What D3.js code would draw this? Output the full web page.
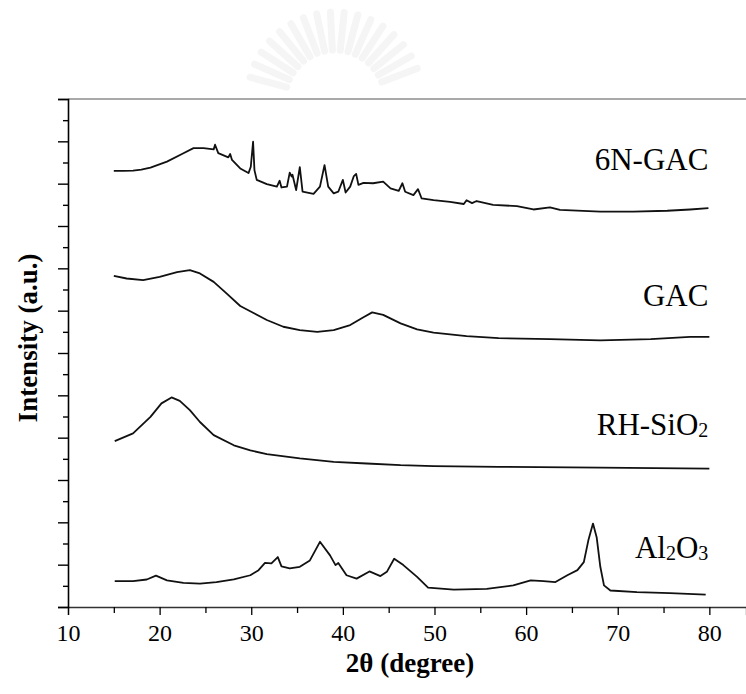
<!DOCTYPE html>
<html>
<head>
<meta charset="utf-8">
<script src="https://d3js.org/d3.v7.min.js"></script>
<style>
body { margin: 0; background: #fff; }
svg text { font-family: "Liberation Serif", "Times New Roman", serif; fill: #000; }
</style>
</head>
<body>
<svg id="chart" width="746" height="694"></svg>
<script>
// tick values
var xMajor = [10, 20, 30, 40, 50, 60, 70, 80];
var xMinor = [15, 25, 35, 45, 55, 65, 75];
var yMajor = d3.range(0, 12.5, 1);
var yMinor = d3.range(0.5, 12, 1);

// series names (subscript parts marked with true)
var names = [
  [["6N-GAC", false]],
  [["GAC", false]],
  [["RH-SiO", false], ["2", true]],
  [["Al", false], ["2", true], ["O", false], ["3", true]]
];
// where each name sits, in data units (right edge at 80 deg)
var nameY = [10.32, 7.11, 4.06, 1.16];

// 2theta (deg), intensity (a.u., offset stacked)
var gac6n = [[15.0,10.30],[16.0,10.30],[17.1,10.31],[18.0,10.33],[19.0,10.38],[20.8,10.52],[22.6,10.72],
  [23.7,10.84],[24.8,10.84],[25.9,10.81],[26.05,10.92],[26.4,10.72],[27.5,10.62],[27.7,10.70],[27.9,10.56],
  [28.8,10.36],[29.7,10.25],[29.95,10.40],[30.2,10.99],[30.35,10.32],[30.6,10.09],[31.7,9.99],[32.8,9.93],
  [33.1,10.07],[33.3,9.91],[33.9,9.93],[34.2,10.26],[34.4,10.17],[34.5,10.21],[34.9,9.85],[35.3,10.39],
  [35.6,9.81],[36.8,9.76],[37.5,9.93],[38.0,10.44],[38.4,9.93],[39.0,9.77],[39.5,9.81],[40.0,10.09],
  [40.3,9.79],[40.8,9.93],[41.2,10.18],[41.45,10.23],[41.7,9.97],[42.25,10.02],[43.3,10.01],[44.4,10.05],
  [45.2,9.89],[46.1,9.83],[46.5,10.01],[46.8,9.81],[47.7,9.73],[48.2,9.87],[48.6,9.65],[49.9,9.61],
  [51.7,9.57],[53.2,9.52],[53.5,9.61],[54.1,9.54],[54.6,9.59],[56.4,9.50],[59.0,9.47],[60.8,9.39],
  [62.6,9.44],[63.7,9.38],[68.1,9.34],[71.7,9.34],[75.4,9.36],[77.9,9.39],[79.9,9.42]];

var gac = [[15.0,7.82],[16.4,7.76],[18.2,7.72],[20.0,7.80],[21.9,7.91],[23.3,7.96],[24.4,7.88],[25.9,7.68],
  [27.3,7.41],[28.8,7.11],[30.2,6.95],[31.7,6.78],[33.5,6.62],[35.3,6.54],[37.2,6.50],[39.0,6.54],
  [40.8,6.66],[42.2,6.84],[43.2,6.96],[44.4,6.90],[46.3,6.70],[48.1,6.56],[49.9,6.48],[53.5,6.40],
  [57.0,6.35],[62.6,6.33],[68.1,6.30],[73.6,6.33],[77.9,6.38],[80.0,6.38]];

var rhSiO2 = [[15.1,3.92],[17.1,4.10],[19.0,4.49],[20.2,4.81],[21.3,4.95],[22.2,4.87],[23.3,4.65],
  [24.4,4.37],[25.9,4.06],[28.1,3.82],[29.9,3.70],[31.7,3.61],[35.3,3.51],[39.0,3.43],[42.6,3.39],
  [46.3,3.35],[49.9,3.33],[57.0,3.31],[68.1,3.29],[80.0,3.27]];

var al2O3 = [[15.1,0.61],[17.1,0.61],[18.6,0.65],[19.6,0.74],[20.8,0.63],[22.6,0.57],[24.4,0.55],
  [26.2,0.59],[28.1,0.65],[29.9,0.75],[30.8,0.87],[31.5,1.04],[32.2,1.03],[32.9,1.18],[33.3,0.96],
  [34.2,0.91],[35.3,0.95],[36.4,1.10],[37.5,1.54],[38.6,1.22],[39.2,0.99],[39.5,1.04],[40.4,0.75],
  [41.5,0.67],[42.9,0.84],[44.1,0.73],[44.8,0.83],[45.6,1.14],[46.6,0.99],[48.1,0.71],[49.3,0.46],
  [52.1,0.41],[55.7,0.43],[58.6,0.51],[60.5,0.63],[61.9,0.61],[63.2,0.59],[64.5,0.75],[65.6,0.87],
  [66.3,1.06],[66.8,1.58],[67.3,1.97],[67.7,1.65],[68.1,0.95],[68.5,0.51],[69.2,0.39],[72.1,0.35],
  [75.7,0.33],[79.6,0.29]];

var allSeries = [gac6n, gac, rhSiO2, al2O3];

var svg = d3.select("#chart");
var x = d3.scaleLinear().domain([10, 84]).range([68, 746]);
var y = d3.scaleLinear().domain([0, 12]).range([607, 99]);

// faint watermark emblem above the plot
var wm = svg.append("g").attr("stroke", "#f5f5f5").attr("stroke-linecap", "round").attr("stroke-width", 7);
d3.range(-165, -14, 9).forEach(function(a) {
  var r = a * Math.PI / 180;
  wm.append("line")
    .attr("x1", 335 + 50 * Math.cos(r)).attr("y1", 100 + 50 * Math.sin(r))
    .attr("x2", 335 + 88 * Math.cos(r)).attr("y2", 100 + 88 * Math.sin(r));
});

// top frame line
svg.append("line")
  .attr("x1", x(10)).attr("x2", 746)
  .attr("y1", y(12)).attr("y2", y(12))
  .attr("stroke", "#555").attr("stroke-width", 1.2);

// x axis
var gx = svg.append("g").attr("transform", "translate(0," + y(0) + ")");
gx.call(d3.axisBottom(x).tickValues(xMajor).tickSize(8).tickPadding(8).tickFormat(d3.format("d")));
gx.append("g").call(d3.axisBottom(x).tickValues(xMinor).tickSize(6).tickFormat(""))
  .select(".domain").remove();
gx.select(".domain").attr("stroke", "#333").attr("stroke-width", 1.3);
gx.selectAll(".tick line").attr("stroke", "#000").attr("stroke-width", 1.3);
gx.selectAll(".tick text").attr("font-size", 24).attr("dy", "0.75em");

// y axis
var gy = svg.append("g").attr("transform", "translate(" + x(10) + ",0)");
gy.call(d3.axisLeft(y).tickValues(yMajor).tickSize(10).tickFormat(""));
gy.append("g").call(d3.axisLeft(y).tickValues(yMinor).tickSize(5).tickFormat(""))
  .select(".domain").remove();
gy.select(".domain").attr("stroke", "#000").attr("stroke-width", 1.6);
gy.selectAll(".tick line").attr("stroke", "#000").attr("stroke-width", 1.4);

// spectra
var line = d3.line()
  .x(function(d) { return x(d[0]); })
  .y(function(d) { return y(d[1]); });

svg.append("g").selectAll("path")
  .data(allSeries)
  .join("path")
  .attr("d", line)
  .attr("fill", "none")
  .attr("stroke", "#111")
  .attr("stroke-width", 1.8)
  .attr("stroke-linejoin", "round");

// series labels
names.forEach(function(parts, i) {
  var t = svg.append("text")
    .attr("x", x(80) - 1)
    .attr("y", y(nameY[i]))
    .attr("text-anchor", "end")
    .attr("font-size", 31);
  var shifted = false;
  parts.forEach(function(p) {
    var ts = t.append("tspan").text(p[0]);
    if (p[1]) {
      ts.attr("font-size", 20).attr("dy", 2);
      shifted = true;
    } else if (shifted) {
      ts.attr("dy", -2);
      shifted = false;
    }
  });
});

// axis titles
svg.append("text")
  .attr("x", 410).attr("y", 672)
  .attr("text-anchor", "middle")
  .attr("font-size", 27).attr("font-weight", "bold")
  .text("2\u03b8 (degree)");

svg.append("text")
  .attr("transform", "translate(37," + 338 + ") rotate(-90)")
  .attr("text-anchor", "middle")
  .attr("font-size", 27).attr("font-weight", "bold")
  .text("Intensity (a.u.)");
</script>
</body>
</html>
